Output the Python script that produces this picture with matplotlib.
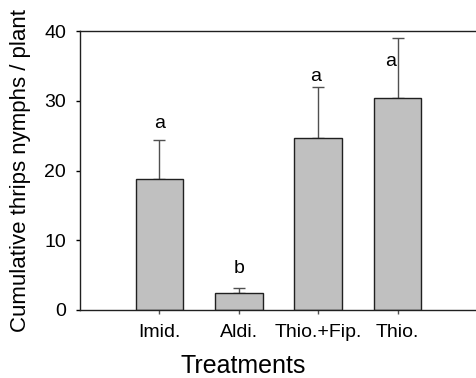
import matplotlib
matplotlib.use('Agg')
import matplotlib.pyplot as plt

# data
treatments = ['Imid.', 'Aldi.', 'Thio.+Fip.', 'Thio.']
means = [18.75, 2.5, 24.7, 30.4]
errors = [5.65, 0.65, 7.2, 8.55]
letters = ['a', 'b', 'a', 'a']
letter_y = [25.5, 4.8, 32.3, 34.4]
letter_x_shift = [0.0, 0.0, -0.03, -0.09]

plt.rcParams['font.family'] = ['Liberation Sans', 'DejaVu Sans']

fig = plt.figure(figsize=(4.77, 3.78), dpi=100)
ax = fig.add_axes([80 / 477, 1 - 310 / 378, 397 / 477, 279 / 378])

x = list(range(1, len(treatments) + 1))
ax.bar(x, means, width=0.6, color='#c0c0c0', edgecolor='#202020', linewidth=1.0, zorder=2)
ax.errorbar(x, means, yerr=[[0] * len(errors), errors], fmt='none',
            ecolor='#505050', elinewidth=1.0, capsize=4, capthick=1.0, zorder=1)

for xi, dx, ly, lt in zip(x, letter_x_shift, letter_y, letters):
    ax.text(xi + dx, ly, lt, ha='center', va='bottom', fontsize=14, zorder=3)

ax.set_xlim(0, 5)
ax.set_ylim(0, 40)
ax.set_yticks([0, 10, 20, 30, 40])
ax.set_xticks(x)
ax.set_xticklabels(treatments)

ax.spines['right'].set_visible(False)
for s in ['left', 'top', 'bottom']:
    ax.spines[s].set_linewidth(1.0)
    ax.spines[s].set_color('#202020')

ax.tick_params(axis='y', direction='out', length=3, width=1, labelsize=14, pad=7)
ax.tick_params(axis='x', direction='out', length=3, width=1, labelsize=14, pad=7,
               color='#505050')

ax.set_xlabel('Treatments', fontsize=18)
ax.xaxis.label.set_va('baseline')
ax.xaxis.set_label_coords(0.412, -0.225)

ax.set_ylabel('Cumulative thrips nymphs / plant', fontsize=16)
ax.yaxis.label.set_va('center')
ax.yaxis.set_label_coords(-0.151, 0.5)

fig.savefig('out.png', dpi=100)
